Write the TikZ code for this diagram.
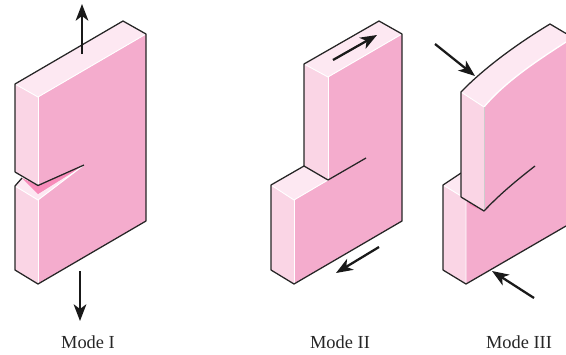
\documentclass[tikz,border=0pt]{standalone}
\usepackage{fontspec}
\setmainfont{Liberation Serif}
\usetikzlibrary{arrows.meta}
\definecolor{facepink}{RGB}{244,172,205}
\definecolor{sidepink}{RGB}{250,213,229}
\definecolor{toppink}{RGB}{253,232,242}
\definecolor{crackpink}{RGB}{248,140,186}
\tikzset{every picture/.style={line width=.55pt},
 outline/.style={black!85,line width=.95pt,line join=round},
 seam/.style={white,line width=.7pt},
 load/.style={black!90,line width=1.7pt,-{Stealth[length=12.5pt,width=9.5pt,inset=3.5pt]}},
 modelabel/.style={font=\fontsize{13.8}{16}\selectfont,text=black!85}}

\begin{document}
\begin{tikzpicture}[x=.75pt,y=-.75pt]
 \useasboundingbox (0,0) rectangle (566,354);
 \clip (0,0) rectangle (566,354);
 % Mode I
 \fill[facepink] (38,97)--(146,34)--(146,221)--(38,284)--cycle;
 \fill[sidepink] (15,84)--(38,97)--(38,185)--(15,172)--cycle;
 \fill[sidepink] (15,186)--(38,200)--(38,284)--(15,270)--cycle;
 \fill[toppink] (15,84)--(123,21)--(146,34)--(38,97)--cycle;
 \fill[white] (15,172)--(38,185.5)--(22,178)--(15,186)--cycle;
 \fill[toppink] (15,186)--(22,178)--(38,194)--(80,168)--(38,200)--cycle;
 \fill[crackpink] (22,178)--(38,185.5)--(84,165)--(38,194)--cycle;
 \draw[seam] (15,84)--(38,97)--(146,34);
 \draw[seam] (38,97)--(38,185.5);
 \draw[seam] (15,186)--(38,200)--(84,165);
 \draw[seam] (38,200)--(38,284);
 \draw[outline] (15,172)--(15,84)--(123,21)--(146,34)--(146,221)--(38,284)--(15,270)--(15,186)--(22,178);
 \draw[outline] (15,172)--(38,185.5)--(84,165);
 \coordinate (upa) at (82,54);
 \coordinate (upb) at (82,4);
 \coordinate (downa) at (80,271);
 \coordinate (downb) at (80,321);
 \draw[load] (upa)--(upb);
 \draw[load] (downa)--(downb);
 \node[modelabel] (labelI) at (88,342) {Mode I};
 % Mode II
 \fill[facepink] (328,77)--(402,34)--(402,221)--(294,284)--(294,200)--(328,180)--cycle;
 \fill[sidepink] (304,64)--(328,77)--(328,180)--(304,166)--cycle;
 \fill[sidepink] (271,185)--(294,200)--(294,284)--(271,270)--cycle;
 \fill[toppink] (304,64)--(379,21)--(402,34)--(328,77)--cycle;
 \fill[toppink] (271,185)--(304,166)--(328,180)--(294,200)--cycle;
 \draw[seam] (304,64)--(328,77)--(402,34);
 \draw[seam] (328,77)--(328,180);
 \draw[seam] (271,185)--(294,200)--(328,180);
 \draw[seam] (294,200)--(294,284);
 \draw[outline] (328,180)--(304,166)--(304,64)--(379,21)--(402,34)--(402,221)--(294,284)--(271,270)--(271,185)--(304,166);
 \draw[outline] (328,180)--(366,158);
 \coordinate (topa) at (333,60);
 \coordinate (topb) at (377,35);
 \coordinate (bota) at (379,247);
 \coordinate (botb) at (336,273);
 \draw[load] (topa)--(topb);
 \draw[load] (bota)--(botb);
 \node[modelabel] (labelII) at (340,342) {Mode II};
 % Mode III
 \fill[facepink] (466,199)--(490,180)--(566,120)--(566,226)--(466,284)--cycle;
 \fill[sidepink] (443,185)--(466,199)--(466,284)--(443,270)--cycle;
 \fill[toppink] (443,185)--(461,173)--(475,190)--(466,199)--cycle;
 \draw[seam] (443,185)--(466,199)--(466,284);
 \fill[crackpink] (466,199)--(475,206)--(478,209)--(470,205)--cycle;
 \draw[outline] (461,173)--(443,185)--(443,270)--(466,284)--(566,226);
 \fill[facepink] (484,107) .. controls (505,82) and (535,62) .. (566,42)--(566,175)--(535,166)
  .. controls (517,180) and (500,194) .. (484,211)--cycle;
 \fill[sidepink] (461,92)--(484,107)--(484,211)--(461,197)--cycle;
 \fill[toppink] (461,92) .. controls (485,67) and (520,42) .. (550,24)--(566,33.5)--(566,42)
  .. controls (535,62) and (505,82) .. (484,107)--cycle;
 \draw[seam] (461,92)--(484,107);
 \draw[seam,line width=1pt] (484,107) .. controls (505,82) and (535,62) .. (566,42);
 \draw[black!20,line width=.7pt] (484,107)--(484,211);
 \draw[outline] (461,197)--(461,92) .. controls (485,67) and (520,42) .. (550,24)--(566,33.5);
 \draw[outline] (461,197)--(484,211) .. controls (500,194) and (517,180) .. (535,166);
 \coordinate (pusha) at (435,44);
 \coordinate (pushb) at (475,76);
 \coordinate (pullb) at (492,271);
 \coordinate (pulla) at (534,298);
 \draw[load] (pusha)--(pushb);
 \draw[load] (pulla)--(pullb);
 \node[modelabel] (labelIII) at (519,342) {Mode III};
\end{tikzpicture}
\end{document}
